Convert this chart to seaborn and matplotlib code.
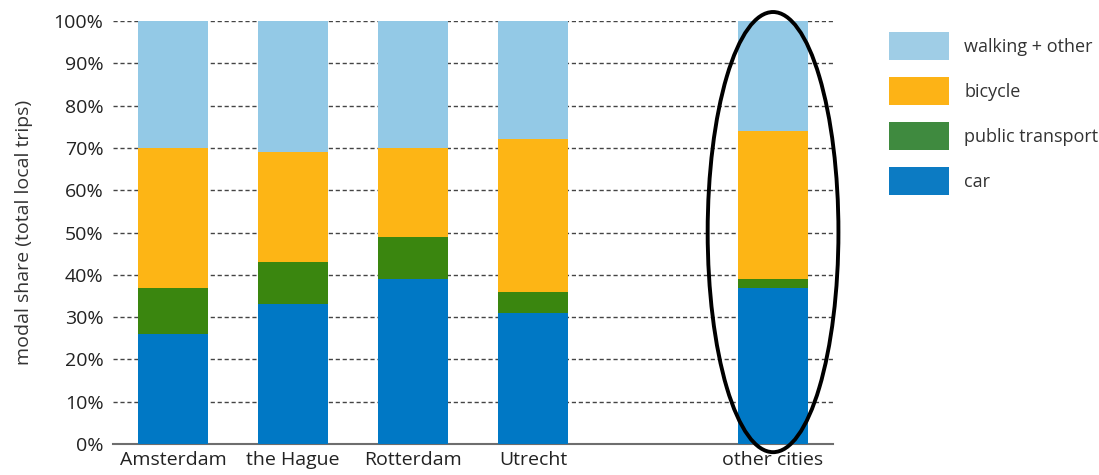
import matplotlib
matplotlib.use("Agg")
import matplotlib.pyplot as plt
from matplotlib.patches import Patch, Ellipse
from matplotlib.ticker import PercentFormatter
import numpy as np
import pandas as pd
import seaborn as sns

# Modal share of local trips (%)
cities = ["Amsterdam", "the Hague", "Rotterdam", "Utrecht", "other cities"]
car = [26, 33, 39, 31, 37]
public_transport = [11, 10, 10, 5, 2]
bicycle = [33, 26, 21, 36, 35]
walking_other = [30, 31, 30, 28, 26]

modes = ["car", "public transport", "bicycle", "walking + other"]
bar_colors = ["#0078c5", "#3a860f", "#fdb515", "#93c9e6"]
legend_colors = ["#0c7bc3", "#3f8a3f", "#fdb316", "#9fcde6"]

# leave an empty slot before the "other cities" bar
order = ["Amsterdam", "the Hague", "Rotterdam", "Utrecht", " ", "other cities"]

df = pd.DataFrame({"city": cities, "car": car, "public transport": public_transport,
                   "bicycle": bicycle, "walking + other": walking_other})
cum = df[modes].cumsum(axis=1)

sns.set_theme(style="white")
plt.rcParams["font.family"] = ["Open Sans", "DejaVu Sans"]

fig = plt.figure(figsize=(10.99, 4.75), dpi=100)
ax = fig.add_axes([0.103, 0.065, 0.655, 0.891])

# stacked bars: draw cumulative totals from the top layer down
for mode, color in reversed(list(zip(modes, bar_colors))):
    sns.barplot(x=df["city"], y=cum[mode], order=order, color=color,
                width=0.58, linewidth=0, saturation=1, ax=ax, zorder=3)

ax.set_ylim(0, 100)
ax.set_xlim(-0.5, 5.5)
ax.set_yticks(np.arange(0, 101, 10))
ax.yaxis.set_major_formatter(PercentFormatter(decimals=0))
ax.grid(axis="y", color="#444444", linestyle=(0, (3, 2)), linewidth=1.0, zorder=0)
ax.set_axisbelow(True)
for s in ["left", "right", "top"]:
    ax.spines[s].set_visible(False)
ax.spines["bottom"].set_color("#6e6e6e")
ax.spines["bottom"].set_linewidth(1.5)
ax.tick_params(axis="both", length=0, labelsize=14, colors="#222222")
ax.tick_params(axis="y", pad=7)
ax.tick_params(axis="x", pad=5)
ax.set_xlabel("")
ax.set_ylabel("modal share (total local trips)", fontsize=14, color="#333333", labelpad=15)

# highlight the "other cities" bar
ax.add_patch(Ellipse((5, 50.1), width=1.09, height=104, fill=False,
                     edgecolor="black", linewidth=2.8, clip_on=False, zorder=5))

handles = [Patch(facecolor=c, edgecolor="none") for c in reversed(legend_colors)]
labels = list(reversed(modes))
fig.legend(handles, labels, loc="upper left", bbox_to_anchor=(0.809, 0.933),
           frameon=False, fontsize=13, handlelength=3.3, handleheight=2.01,
           labelspacing=0.94, handletextpad=0.85, borderaxespad=0, borderpad=0,
           labelcolor="#333333")

fig.savefig("out.png", dpi=100)
